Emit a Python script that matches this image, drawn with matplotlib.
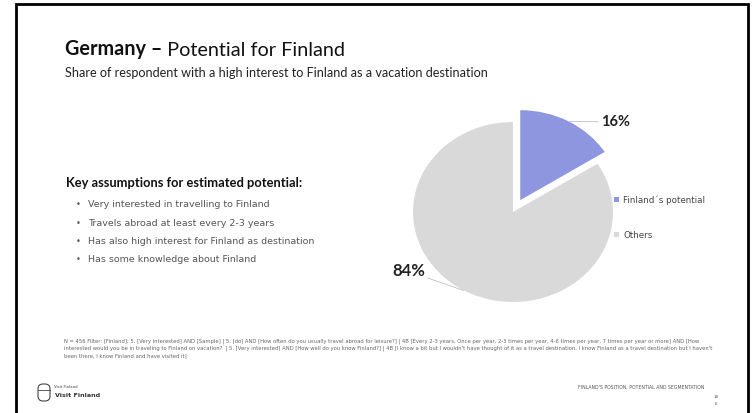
import matplotlib.pyplot as plt
from matplotlib.patches import FancyBboxPatch
import numpy as np

# data
labels = ["Finland´s potential", "Others"]
shares = [16, 84]
colors = ["#8F96E0", "#D9D9D9"]

title_bold = "Germany –"
title_rest = " Potential for Finland"
subtitle = "Share of respondent with a high interest to Finland as a vacation destination"
key_heading = "Key assumptions for estimated potential:"
assumptions = [
    "Very interested in travelling to Finland",
    "Travels abroad at least every 2-3 years",
    "Has also high interest for Finland as destination",
    "Has some knowledge about Finland",
]
footnote = [
    "N = 456 Filter: [Finland]; 5. [Very interested] AND [Sample] | 5. [do] AND [How often do you usually travel abroad for leisure?] | 4B [Every 2-3 years, Once per year, 2-3 times per year, 4-6 times per year, 7 times per year or more] AND [How",
    "interested would you be in traveling to Finland on vacation?  | 5. [Very interested] AND [How well do you know Finland?] | 4B [I know a bit but I wouldn't have thought of it as a travel destination, I know Finland as a travel destination but I haven't",
    "been there, I know Finland and have visited it]",
]

W, H = 752, 413
fig = plt.figure(figsize=(W / 100, H / 100), dpi=100)
fig.patch.set_facecolor("white")

# overlay axes in pixel coordinates for slide texts
bg = fig.add_axes([0, 0, 1, 1])
bg.set_xlim(0, W)
bg.set_ylim(H, 0)
bg.axis("off")

# slide border
bg.plot([16, 16, 748, 748], [H, 4, 4, H], color="black", lw=2, solid_joinstyle="miter")

# title
t1 = bg.text(65, 55, title_bold, fontsize=14.3, fontweight="bold", family="Lato",
             color="#111111", va="baseline")
bg.annotate(title_rest, xy=(1, 0), xycoords=t1, fontsize=14.3, family="Lato",
            color="#111111", va="bottom")
bg.text(65, 77, subtitle, fontsize=9.1, family="Lato", color="#222222", va="baseline")

# key assumptions
bg.text(66, 187, key_heading, fontsize=9.3, fontweight="bold", family="Lato",
        color="#111111", va="baseline")
for i, line in enumerate(assumptions):
    y = 207 + i * 18.5
    bg.text(76, y, "•", fontsize=6, color="#555555", va="baseline")
    bg.text(88, y, line, fontsize=6.8, family="DejaVu Sans", color="#555555",
            va="baseline")

# footnote
for i, line in enumerate(footnote):
    bg.text(64, 342 + i * 7.5, line, fontsize=3.8, family="DejaVu Sans Condensed",
            color="#666666", va="baseline")

# footer
bg.add_patch(FancyBboxPatch((38, 384), 12, 17, boxstyle="round,pad=0,rounding_size=5",
                            fill=False, ec="#444444", lw=0.8))
bg.plot([38, 50], [390, 390], color="#444444", lw=0.6)
bg.text(54, 388, "Visit Finland", fontsize=2.8, color="#444444", va="baseline")
bg.text(55, 397, "Visit Finland", fontsize=4.6, fontweight="bold", color="#333333",
        va="baseline")
bg.text(578, 389, "FINLAND'S POSITION, POTENTIAL AND SEGMENTATION", fontsize=3.3,
        color="#555555", va="baseline")
bg.text(714, 398, "18", fontsize=3, color="#555555", va="baseline")
bg.text(715, 405, "6", fontsize=3, color="#555555", va="baseline")

# pie chart: center at (513, 212) px, radius ~100 x 90 px
cx, cy, rx, ry = 513, 212, 100, 90
lim = 1.2
ax = fig.add_axes([(cx - lim * rx) / W, (H - cy - lim * ry) / H,
                   2 * lim * rx / W, 2 * lim * ry / H])
explode = [0.15, 0]
wedges, _ = ax.pie(shares, colors=colors, startangle=90, counterclock=False,
                   explode=explode, wedgeprops=dict(linewidth=0))
ax.set_aspect("auto")
ax.set_xlim(-lim, lim)
ax.set_ylim(-lim, lim)
ax.axis("off")

# data labels with leader lines
label_pos = [(0.88, 1.0, "left", 10.5), (-0.88, -0.66, "right", 12)]
for w, e, v, (tx, ty, ha, fs) in zip(wedges, explode, shares, label_pos):
    ang = np.deg2rad((w.theta1 + w.theta2) / 2)
    px = (1 + e) * np.cos(ang)
    py = (1 + e) * np.sin(ang)
    ax.annotate(f"{v}%", xy=(px, py), xytext=(tx, ty), ha=ha, va="center",
                fontsize=fs, fontweight="bold", family="Lato", color="#222222",
                arrowprops=dict(arrowstyle="-", color="#BFBFBF", lw=0.6,
                                shrinkA=0, shrinkB=1))

# legend
fig.legend(wedges, labels, loc="upper left", bbox_to_anchor=(614 / W, (H - 195) / H),
           frameon=False, fontsize=6.3, handlelength=0.55, handleheight=0.55,
           handletextpad=0.5, labelspacing=3.0, labelcolor="#444444",
           borderaxespad=0, borderpad=0)

fig.savefig("out.png", dpi=100, facecolor="white")
